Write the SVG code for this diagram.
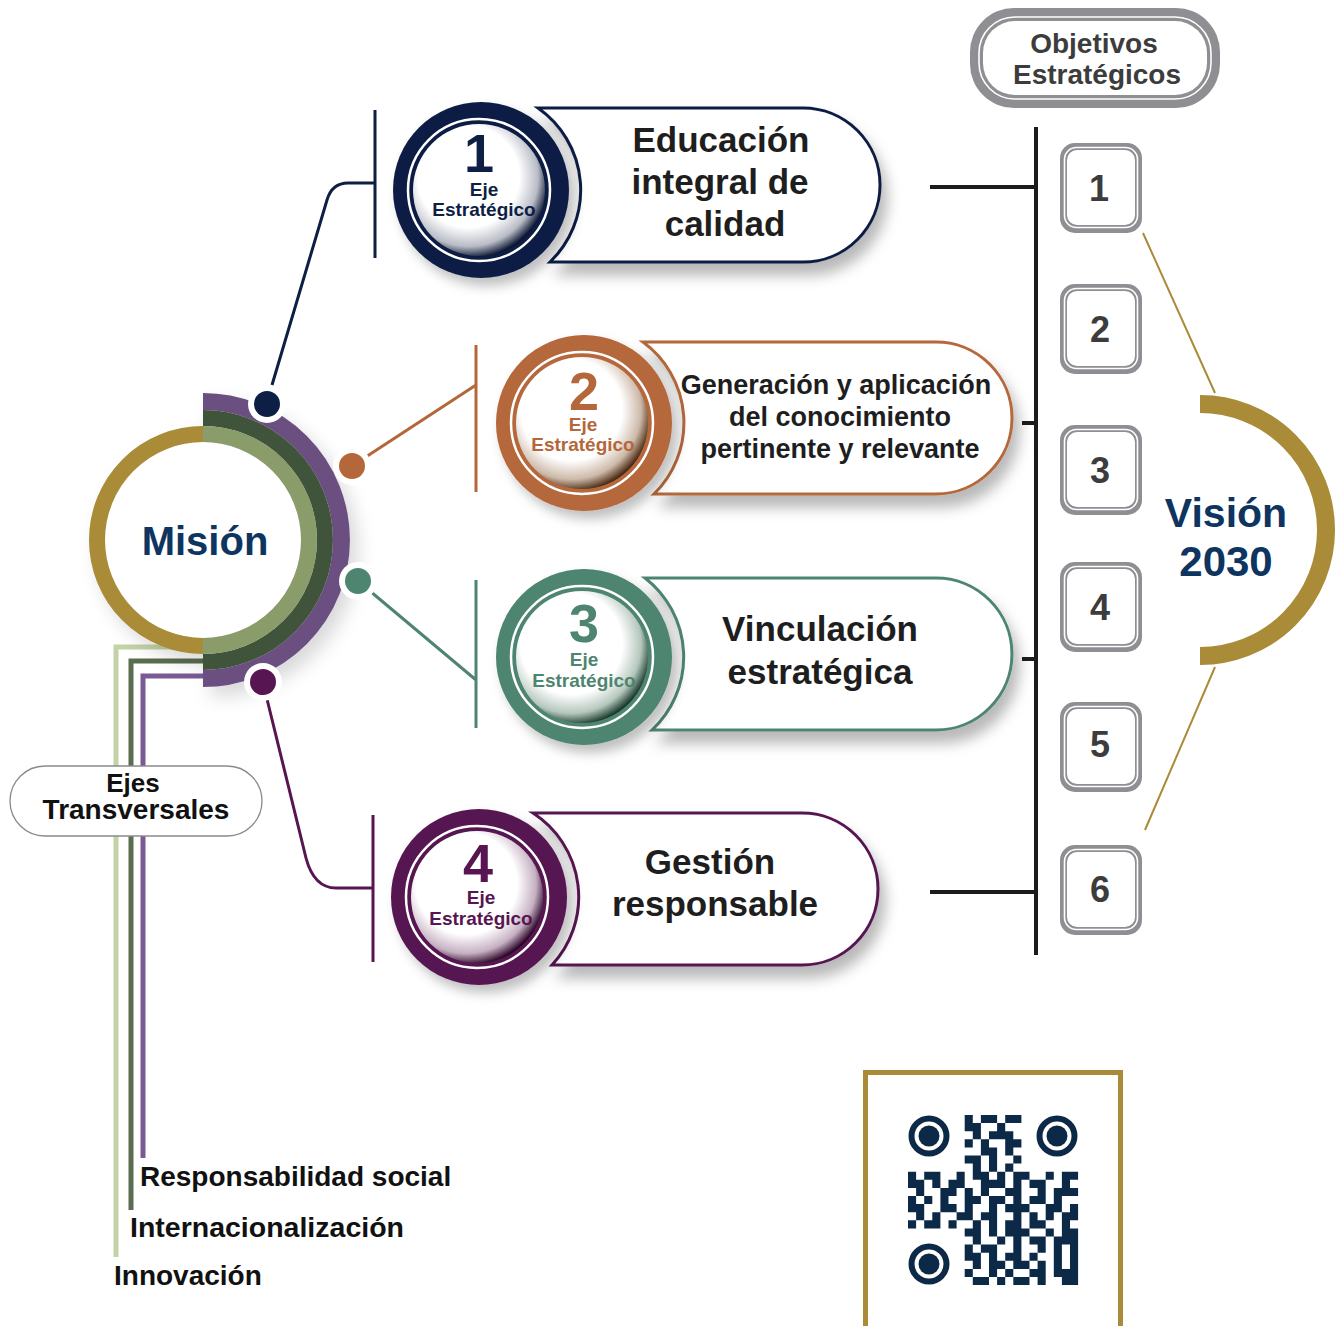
<svg xmlns="http://www.w3.org/2000/svg" width="1338" height="1326" viewBox="0 0 1338 1326">
<defs>
<style>
.t{font-family:"Liberation Sans",Arial,Helvetica,sans-serif;font-weight:bold;text-anchor:middle}
.s{text-anchor:start}
.bt{fill:#1e1e1e;font-size:35px}
.num{font-size:54px}
.eje{font-size:19px}
.ob{fill:#3c3c3c;font-size:36px}
.box{fill:#8e8e93}
.inr{fill:none;stroke:#fff;stroke-width:1.6}
.ins{fill:#fff}
.bar{fill:none;stroke-width:3}
.blk{fill:none;stroke:#1c1c1c;stroke-width:4}
.gold{fill:none;stroke:#a98b38;stroke-width:2}
</style>
<filter id="ds" x="-30%" y="-30%" width="170%" height="190%"><feDropShadow dx="6" dy="12" stdDeviation="7" flood-color="#000" flood-opacity="0.28"/></filter>
<filter id="ds2" x="-30%" y="-30%" width="170%" height="170%"><feDropShadow dx="6" dy="8" stdDeviation="6" flood-color="#000" flood-opacity="0.25"/></filter>
<filter id="ds3" x="-30%" y="-30%" width="170%" height="170%"><feDropShadow dx="8" dy="10" stdDeviation="9" flood-color="#000" flood-opacity="0.15"/></filter>
<radialGradient id="in1" cx="0.42" cy="0.4" r="0.62"><stop offset="0.62" stop-color="#fff"/><stop offset="0.85" stop-color="#b9bcc6"/><stop offset="1" stop-color="#0a1530"/></radialGradient>
<radialGradient id="in2" cx="0.42" cy="0.4" r="0.62"><stop offset="0.62" stop-color="#fff"/><stop offset="0.85" stop-color="#cdb9a8"/><stop offset="1" stop-color="#4a2a12"/></radialGradient>
<radialGradient id="in3" cx="0.42" cy="0.4" r="0.62"><stop offset="0.62" stop-color="#fff"/><stop offset="0.85" stop-color="#b5c7bd"/><stop offset="1" stop-color="#193a2c"/></radialGradient>
<radialGradient id="in4" cx="0.42" cy="0.4" r="0.62"><stop offset="0.62" stop-color="#fff"/><stop offset="0.85" stop-color="#c6b0c2"/><stop offset="1" stop-color="#2a0626"/></radialGradient>
</defs>
<rect width="1338" height="1326" fill="#fff"/>

<!-- connectors -->
<g id="connectors">
 <path d="M203,647 H116 V1257" fill="none" stroke="#c3d3a6" stroke-width="5"/>
 <path d="M203,661 H131 V1210" fill="none" stroke="#5b6d4f" stroke-width="5"/>
 <path d="M203,676 H143 V1158" fill="none" stroke="#7b5a93" stroke-width="5"/>
 <path class="bar" stroke="#0d1f45" d="M272,385 L327,200 Q332,183 348,183 L375,183 M375,110 V258"/>
 <path class="bar" stroke="#b4673a" d="M352,466 L476,385 M476,345 V492"/>
 <path class="bar" stroke="#4e8570" d="M358,581 L476,680 M476,580 V728"/>
 <path class="bar" stroke="#571651" d="M266,695 L306,858 Q314,888 336,888 L373,888 M373,815 V962"/>
 <path class="blk" d="M1036,127 V955 M930,187 H1036 M930,892 H1036 M1022,423 H1036 M1022,659 H1036"/>
 <path class="gold" d="M1143,233 L1215,393 M1215,667 L1145,830"/>
</g>

<!-- Mision -->
<g id="mision">
 <g filter="url(#ds3)">
  <circle cx="203" cy="540" r="98" fill="#fff"/>
  <path d="M203,401.5 A138.5,138.5 0 0 1 203,678.5" fill="none" stroke="#6b4f80" stroke-width="17"/>
  <path d="M203,418 A122,122 0 0 1 203,662" fill="none" stroke="#41523b" stroke-width="16"/>
  <path d="M203,434 A106,106 0 0 1 203,646" fill="none" stroke="#8a9c6b" stroke-width="16"/>
  <path d="M203,434 A106,106 0 0 0 203,646" fill="none" stroke="#a98b38" stroke-width="16"/>
 </g>
 <text class="t" x="205" y="555" font-size="40" fill="#0e3460">Misión</text>
 <circle cx="267" cy="404" r="19" fill="#fff"/><circle cx="267" cy="404" r="13" fill="#0d1f45"/>
 <circle cx="352" cy="466" r="19" fill="#fff"/><circle cx="352" cy="466" r="13" fill="#b4673a"/>
 <circle cx="358" cy="581" r="19" fill="#fff"/><circle cx="358" cy="581" r="13" fill="#4e8570"/>
 <circle cx="263" cy="682" r="19" fill="#fff"/><circle cx="263" cy="682" r="13" fill="#571651"/>
</g>

<!-- Eje 1 -->
<g id="eje1">
 <path d="M538,108 H803 A77,77 0 0 1 803,262 H550 A100,100 0 0 0 538,108 Z" fill="#fff" stroke="#0d1f45" stroke-width="3" filter="url(#ds)"/>
 <circle cx="481" cy="190" r="88" fill="#0d1f45" filter="url(#ds2)"/>
 <circle cx="479" cy="190" r="71" fill="none" stroke="#fff" stroke-width="2.5"/>
 <circle cx="479" cy="190" r="66" fill="url(#in1)"/>
 <text class="t num" x="479" y="172" fill="#0d1f45">1</text>
 <text class="t eje" x="484" y="196" fill="#0d1f45">Eje</text>
 <text class="t eje" x="484" y="216" fill="#0d1f45">Estratégico</text>
 <text class="t bt" x="721" y="152">Educación</text>
 <text class="t bt" x="720" y="194">integral de</text>
 <text class="t bt" x="725" y="236">calidad</text>
</g>

<!-- Eje 2 -->
<g id="eje2">
 <path d="M643,342 H936 A76,76 0 0 1 936,494 H654 A100,100 0 0 0 643,342 Z" fill="#fff" stroke="#b4673a" stroke-width="3" filter="url(#ds)"/>
 <circle cx="584" cy="423" r="88" fill="#b4673a" filter="url(#ds2)"/>
 <circle cx="582" cy="423" r="71" fill="none" stroke="#fff" stroke-width="2.5"/>
 <circle cx="582" cy="423" r="66" fill="url(#in2)"/>
 <text class="t num" x="584" y="410" fill="#b4673a">2</text>
 <text class="t eje" x="583" y="431" fill="#b4673a">Eje</text>
 <text class="t eje" x="583" y="451" fill="#b4673a">Estratégico</text>
 <text class="t" x="836" y="394" font-size="27" fill="#1e1e1e">Generación y aplicación</text>
 <text class="t" x="840" y="426" font-size="27" fill="#1e1e1e">del conocimiento</text>
 <text class="t" x="840" y="458" font-size="27" fill="#1e1e1e">pertinente y relevante</text>
</g>

<!-- Eje 3 -->
<g id="eje3">
 <path d="M645,578 H936 A76,76 0 0 1 936,730 H652 A100,100 0 0 0 645,578 Z" fill="#fff" stroke="#4e8570" stroke-width="3" filter="url(#ds)"/>
 <circle cx="584" cy="657" r="88" fill="#4e8570" filter="url(#ds2)"/>
 <circle cx="582" cy="657" r="71" fill="none" stroke="#fff" stroke-width="2.5"/>
 <circle cx="582" cy="657" r="66" fill="url(#in3)"/>
 <text class="t num" x="584" y="642" fill="#4e8570">3</text>
 <text class="t eje" x="584" y="666" fill="#4e8570">Eje</text>
 <text class="t eje" x="584" y="687" fill="#4e8570">Estratégico</text>
 <text class="t bt" x="820" y="641">Vinculación</text>
 <text class="t bt" x="820" y="684">estratégica</text>
</g>

<!-- Eje 4 -->
<g id="eje4">
 <path d="M533,813 H802 A76,76 0 0 1 802,965 H552 A100,100 0 0 0 533,813 Z" fill="#fff" stroke="#571651" stroke-width="3" filter="url(#ds)"/>
 <circle cx="479" cy="897" r="88" fill="#571651" filter="url(#ds2)"/>
 <circle cx="477" cy="897" r="71" fill="none" stroke="#fff" stroke-width="2.5"/>
 <circle cx="477" cy="897" r="66" fill="url(#in4)"/>
 <text class="t num" x="478" y="882" fill="#571651">4</text>
 <text class="t eje" x="481" y="904" fill="#571651">Eje</text>
 <text class="t eje" x="481" y="925" fill="#571651">Estratégico</text>
 <text class="t bt" x="710" y="874">Gestión</text>
 <text class="t bt" x="715" y="916">responsable</text>
</g>

<!-- Objetivos header -->
<g id="objetivos">
 <rect x="970" y="8" width="250" height="100" rx="44" class="box"/>
 <rect x="979" y="17" width="232" height="82" rx="36" class="inr" stroke-width="2.5"/>
 <rect x="983" y="21" width="224" height="74" rx="32" class="ins"/>
 <text class="t" x="1094" y="53" font-size="28" fill="#3c3c3c">Objetivos</text>
 <text class="t" x="1097" y="84" font-size="28" fill="#3c3c3c">Estratégicos</text>
</g>

<!-- Objective boxes -->
<g id="obj1"><rect x="1060" y="143" width="82" height="90" rx="15" class="box"/><rect x="1064.5" y="147.5" width="73" height="80" rx="12" class="inr"/><rect x="1067" y="150" width="68" height="75" rx="10" class="ins"/><text class="t ob" x="1099" y="201">1</text></g>
<g id="obj2"><rect x="1060" y="284" width="82" height="90" rx="15" class="box"/><rect x="1064.5" y="288.5" width="73" height="80" rx="12" class="inr"/><rect x="1067" y="291" width="68" height="75" rx="10" class="ins"/><text class="t ob" x="1100" y="342">2</text></g>
<g id="obj3"><rect x="1060" y="425" width="82" height="90" rx="15" class="box"/><rect x="1064.5" y="429.5" width="73" height="80" rx="12" class="inr"/><rect x="1067" y="432" width="68" height="75" rx="10" class="ins"/><text class="t ob" x="1100" y="483">3</text></g>
<g id="obj4"><rect x="1060" y="562" width="82" height="90" rx="15" class="box"/><rect x="1064.5" y="566.5" width="73" height="80" rx="12" class="inr"/><rect x="1067" y="569" width="68" height="75" rx="10" class="ins"/><text class="t ob" x="1100" y="620">4</text></g>
<g id="obj5"><rect x="1060" y="702" width="82" height="90" rx="15" class="box"/><rect x="1064.5" y="706.5" width="73" height="80" rx="12" class="inr"/><rect x="1067" y="709" width="68" height="75" rx="10" class="ins"/><text class="t ob" x="1100" y="757">5</text></g>
<g id="obj6"><rect x="1060" y="845" width="82" height="90" rx="15" class="box"/><rect x="1064.5" y="849.5" width="73" height="80" rx="12" class="inr"/><rect x="1067" y="852" width="68" height="75" rx="10" class="ins"/><text class="t ob" x="1100" y="902">6</text></g>

<!-- Vision -->
<g id="vision">
 <path d="M1200,404 A126,126 0 0 1 1200,656" fill="none" stroke="#a98b38" stroke-width="18"/>
 <text class="t" x="1226" y="527" font-size="41" fill="#0e3460">Visión</text>
 <text class="t" x="1226" y="576" font-size="42" fill="#0e3460">2030</text>
</g>

<!-- Ejes transversales -->
<g id="transversales">
 <rect x="10" y="766" width="252" height="70" rx="35" fill="#fff" stroke="#8a8a8a" stroke-width="1.3"/>
 <text class="t" x="133" y="792" font-size="26" fill="#111">Ejes</text>
 <text class="t" x="136" y="819" font-size="28" fill="#111">Transversales</text>
 <text class="t s" x="140" y="1186" font-size="28" fill="#111">Responsabilidad social</text>
 <text class="t s" x="130" y="1237" font-size="28.5" fill="#111">Internacionalización</text>
 <text class="t s" x="114" y="1285" font-size="28" fill="#111">Innovación</text>
</g>

<!-- QR -->
<g id="qr">
 <rect x="865.5" y="1072.5" width="255" height="300" fill="#fff" stroke="#a98b38" stroke-width="5"/>
 <g fill="none" stroke="#0c2a48" stroke-width="6"><circle cx="929" cy="1136" r="17.5"/><circle cx="1057" cy="1136" r="17.5"/><circle cx="929" cy="1264" r="17.5"/></g>
 <g fill="#0c2a48"><circle cx="929" cy="1136" r="10.5"/><circle cx="1057" cy="1136" r="10.5"/><circle cx="929" cy="1264" r="10.5"/></g>
 <path fill="#0c2a48" transform="translate(908,1115) scale(8.1)" d="M7 0h1v1h-1z M9 0h2v1h-2z M12 0h2v1h-2z M7 1h2v1h-2z M11 1h1v1h-1z M8 2h1v1h-1z M10 2h3v1h-3z M7 3h1v1h-1z M9 3h1v1h-1z M12 3h2v1h-2z M9 4h2v1h-2z M12 4h1v1h-1z M7 5h2v1h-2z M10 5h1v1h-1z M13 5h1v1h-1z M8 6h1v1h-1z M10 6h1v1h-1z M12 6h1v1h-1z
 M0 7h1v1h-1z M2 7h2v1h-2z M6 7h1v1h-1z M8 7h2v1h-2z M11 7h1v1h-1z M13 7h2v1h-2z M17 7h1v1h-1z M19 7h2v1h-2z
 M0 8h2v1h-2z M3 8h1v1h-1z M5 8h2v1h-2z M9 8h3v1h-3z M13 8h1v1h-1z M15 8h2v1h-2z M19 8h1v1h-1z
 M1 9h1v1h-1z M4 9h2v1h-2z M7 9h1v1h-1z M9 9h1v1h-1z M12 9h2v1h-2z M16 9h1v1h-1z M18 9h3v1h-3z
 M0 10h1v1h-1z M2 10h1v1h-1z M4 10h1v1h-1z M7 10h2v1h-2z M10 10h2v1h-2z M13 10h1v1h-1z M15 10h2v1h-2z M18 10h1v1h-1z
 M0 11h2v1h-2z M4 11h2v1h-2z M7 11h1v1h-1z M10 11h1v1h-1z M12 11h3v1h-3z M17 11h2v1h-2z M20 11h1v1h-1z
 M1 12h1v1h-1z M3 12h1v1h-1z M6 12h2v1h-2z M9 12h2v1h-2z M13 12h1v1h-1z M15 12h1v1h-1z M17 12h1v1h-1z M19 12h2v1h-2z
 M0 13h1v1h-1z M2 13h2v1h-2z M5 13h1v1h-1z M8 13h1v1h-1z M10 13h1v1h-1z M12 13h2v1h-2z M15 13h2v1h-2z M19 13h1v1h-1z
 M7 14h2v1h-2z M10 14h1v1h-1z M12 14h3v1h-3z M17 14h1v1h-1z M19 14h2v1h-2z
 M8 15h1v1h-1z M11 15h1v1h-1z M13 15h1v1h-1z M15 15h2v1h-2z M18 15h3v1h-3z
 M7 16h1v1h-1z M9 16h2v1h-2z M13 16h1v1h-1z M16 16h1v1h-1z M18 16h1v1h-1z M20 16h1v1h-1z
 M7 17h2v1h-2z M10 17h1v1h-1z M12 17h2v1h-2z M15 17h1v1h-1z M18 17h1v1h-1z M20 17h1v1h-1z
 M8 18h1v1h-1z M10 18h2v1h-2z M13 18h2v1h-2z M16 18h1v1h-1z M18 18h1v1h-1z M20 18h1v1h-1z
 M7 19h1v1h-1z M10 19h1v1h-1z M12 19h1v1h-1z M15 19h2v1h-2z M18 19h3v1h-3z
 M8 20h2v1h-2z M11 20h1v1h-1z M13 20h2v1h-2z M16 20h1v1h-1z M19 20h2v1h-2z"/>
</g>
</svg>
